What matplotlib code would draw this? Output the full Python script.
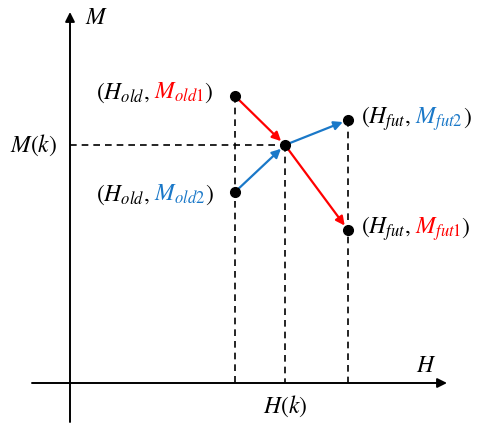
import matplotlib.pyplot as plt

plt.rcParams['mathtext.fontset'] = 'stix'

# diagram positions (pixel-like units, y grows downward)
H_old, H_k, H_fut = 235, 285, 348
M_old1, M_old2, M_k, M_fut2, M_fut1 = 96, 192, 145, 120, 230
axis_x, axis_y = 70, 383

red = '#ff0000'
blue = '#1a78c8'

fig = plt.figure(figsize=(4.88, 4.30), dpi=100)
ax = fig.add_axes([0, 0, 1, 1])
ax.set_xlim(0, 488)
ax.set_ylim(430, 0)
ax.axis('off')

# axes with arrow heads
ax.annotate('', xy=(axis_x, 12), xytext=(axis_x, 422),
            arrowprops=dict(arrowstyle='-|>', color='black', lw=1.4,
                            mutation_scale=14, shrinkA=0, shrinkB=0))
ax.annotate('', xy=(447, axis_y), xytext=(32, axis_y),
            arrowprops=dict(arrowstyle='-|>', color='black', lw=1.4,
                            mutation_scale=14, shrinkA=0, shrinkB=0))

# dashed guide lines
dash = dict(color='black', lw=1.2, ls=(0, (4, 3)))
ax.plot([axis_x, H_k], [M_k, M_k], **dash)
ax.plot([H_old, H_old], [M_old1, axis_y], **dash)
ax.plot([H_k, H_k], [M_k, axis_y], **dash)
ax.plot([H_fut, H_fut], [M_fut2, axis_y], **dash)

# arrows
def arrow(x0, y0, x1, y1, c):
    ax.annotate('', xy=(x1, y1), xytext=(x0, y0),
                arrowprops=dict(arrowstyle='-|>', color=c, lw=1.6,
                                mutation_scale=13, shrinkA=2, shrinkB=4))

arrow(H_old, M_old1, H_k, M_k, red)
arrow(H_k, M_k, H_fut, M_fut1, red)
arrow(H_old, M_old2, H_k, M_k, blue)
arrow(H_k, M_k, H_fut, M_fut2, blue)

# points
ax.plot([H_old, H_old, H_k, H_fut, H_fut],
        [M_old1, M_old2, M_k, M_fut2, M_fut1], 'o', color='black', ms=7, zorder=5)

fs = 17

def label(x, y, parts):
    t = ax.text(x, y, parts[0][0], color=parts[0][1], fontsize=fs,
                ha='left', va='baseline')
    for s, c in parts[1:]:
        t = ax.annotate(s, xy=(1, y), xycoords=(t, 'data'), color=c,
                        fontsize=fs, ha='left', va='baseline')

label(96, 99, [(r'$(H_{old},$', 'black'), (r'$\;M_{old1}$', red), (r'$)$', 'black')])
label(96, 201, [(r'$(H_{old},$', 'black'), (r'$\;M_{old2}$', blue), (r'$)$', 'black')])
label(361, 124, [(r'$(H_{fut},$', 'black'), (r'$\;M_{fut2}$', blue), (r'$)$', 'black')])
label(361, 234, [(r'$(H_{fut},$', 'black'), (r'$\;M_{fut1}$', red), (r'$)$', 'black')])

ax.text(85, 24, r'$M$', fontsize=fs, ha='left', va='baseline')
ax.text(416, 372, r'$H$', fontsize=fs, ha='left', va='baseline')
ax.text(57, 152, r'$M(k)$', fontsize=fs, ha='right', va='baseline')
ax.text(H_k, 413, r'$H(k)$', fontsize=fs, ha='center', va='baseline')

fig.savefig('out.png', dpi=100)
